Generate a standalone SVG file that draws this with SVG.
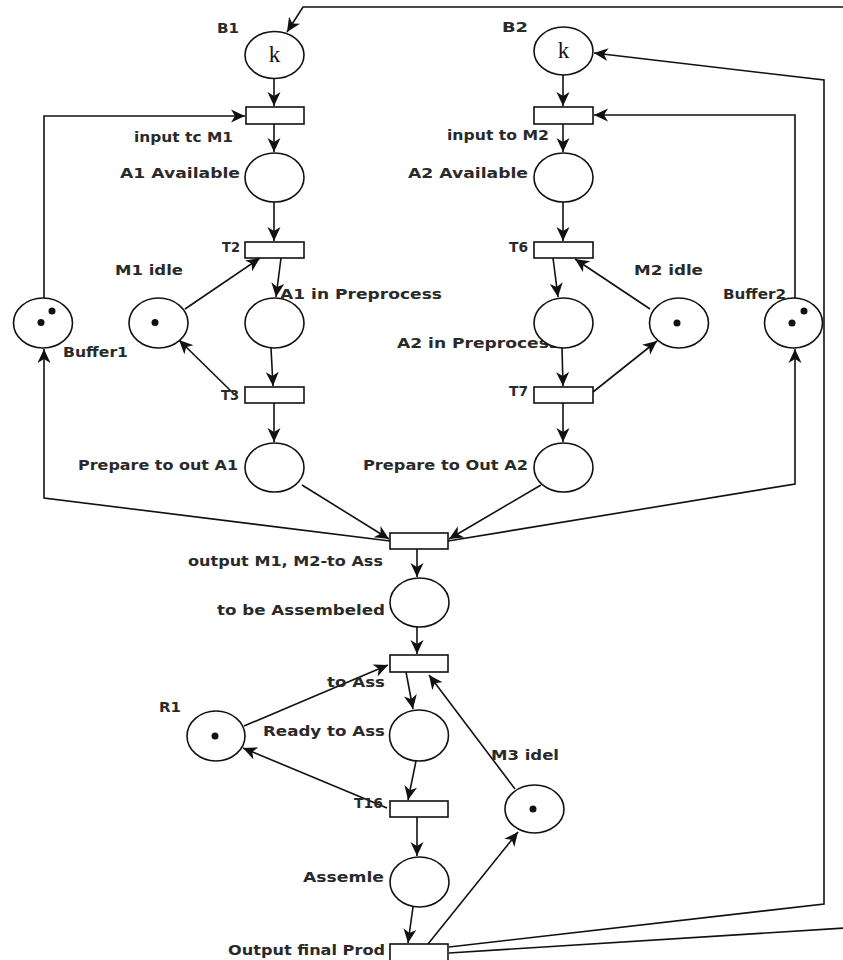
<svg xmlns="http://www.w3.org/2000/svg" width="843" height="960" viewBox="0 0 843 960">
  <style>
    .place { fill: #fff; stroke: #111; stroke-width: 1.6; }
    .trans { fill: #fff; stroke: #111; stroke-width: 1.6; }
    .tok { fill: #111; }
    .arc { fill: none; stroke: #111; stroke-width: 1.6; }
    .lbl { font-family: "DejaVu Sans", "Liberation Sans", sans-serif; font-weight: bold; font-size: 14.5px; fill: #2a2a2a; }
    .k { font-family: "Liberation Serif", serif; font-size: 23px; fill: #111; text-anchor: middle; }
  </style>
  <defs>
    <marker id="arr" markerUnits="userSpaceOnUse" markerWidth="16" markerHeight="14" refX="14" refY="7" orient="auto">
      <path d="M0,0.5 L14,7 L0,13.5 L4,7 z" fill="#111"/>
    </marker>
  </defs>
  <rect width="843" height="960" fill="#fff"/>

  <!-- arcs -->
  <g id="connectors">
    <path class="arc" d="M274,78 L274,106" marker-end="url(#arr)"/>
    <path class="arc" d="M274,124 L274,152" marker-end="url(#arr)"/>
    <path class="arc" d="M274,202 L274,241" marker-end="url(#arr)"/>
    <path class="arc" d="M281,258 L276,297" marker-end="url(#arr)"/>
    <path class="arc" d="M185,309 L260,258" marker-end="url(#arr)"/>
    <path class="arc" d="M271,348 L273,386" marker-end="url(#arr)"/>
    <path class="arc" d="M235,395 L179,340" marker-end="url(#arr)"/>
    <path class="arc" d="M274,403 L274,442" marker-end="url(#arr)"/>
    <path class="arc" d="M44,298 L44,116 L245,116" marker-end="url(#arr)"/>
    <path class="arc" d="M390,541 L44,498 L44,349" marker-end="url(#arr)"/>
    <path class="arc" d="M302,485 L389,539" marker-end="url(#arr)"/>
    <path class="arc" d="M541,485 L449,539" marker-end="url(#arr)"/>
    <path class="arc" d="M448,541 L795,484 L795,349" marker-end="url(#arr)"/>
    <path class="arc" d="M795,298 L795,115 L594,115" marker-end="url(#arr)"/>

    <path class="arc" d="M563,75 L563,106" marker-end="url(#arr)"/>
    <path class="arc" d="M563,124 L563,152" marker-end="url(#arr)"/>
    <path class="arc" d="M563,202 L563,241" marker-end="url(#arr)"/>
    <path class="arc" d="M553,258 L558,297" marker-end="url(#arr)"/>
    <path class="arc" d="M650,309 L575,259" marker-end="url(#arr)"/>
    <path class="arc" d="M562,348 L563,386" marker-end="url(#arr)"/>
    <path class="arc" d="M593,392 L657,341" marker-end="url(#arr)"/>
    <path class="arc" d="M563,403 L563,442" marker-end="url(#arr)"/>

    <path class="arc" d="M417,549 L417,577" marker-end="url(#arr)"/>
    <path class="arc" d="M417,627 L417,654" marker-end="url(#arr)"/>
    <path class="arc" d="M244,726 L388,665" marker-end="url(#arr)"/>
    <path class="arc" d="M406,672 L413,709" marker-end="url(#arr)"/>
    <path class="arc" d="M515,789 L429,675" marker-end="url(#arr)"/>
    <path class="arc" d="M416,761 L408,800" marker-end="url(#arr)"/>
    <path class="arc" d="M387,808 L243,748" marker-end="url(#arr)"/>
    <path class="arc" d="M417,817 L417,856" marker-end="url(#arr)"/>
    <path class="arc" d="M413,907 L408,943" marker-end="url(#arr)"/>
    <path class="arc" d="M428,944 L518,832" marker-end="url(#arr)"/>
    <path class="arc" d="M449,947 L824,904 L824,80 L594,53" marker-end="url(#arr)"/>
    <path class="arc" d="M449,953 L845,928"/>
    <path class="arc" d="M845,7 L303,7 L287,32" marker-end="url(#arr)"/>
  </g>

  <!-- machine 1 branch -->
  <g id="B1">
    <text class="lbl" x="217" y="33" textLength="22" lengthAdjust="spacingAndGlyphs">B1</text>
    <ellipse class="place" cx="274.5" cy="55" rx="29.5" ry="23.5"/>
    <text class="k" x="274.5" y="62">k</text>
  </g>
  <g id="input_M1">
    <rect class="trans" x="246" y="107" width="58" height="17"/>
    <text class="lbl" x="134" y="142" textLength="99" lengthAdjust="spacingAndGlyphs">input tc M1</text>
  </g>
  <g id="A1_Available">
    <ellipse class="place" cx="274.5" cy="177.5" rx="29.5" ry="24.5"/>
    <text class="lbl" x="120" y="178" textLength="120" lengthAdjust="spacingAndGlyphs">A1 Available</text>
  </g>
  <g id="T2">
    <rect class="trans" x="245" y="242" width="59" height="16"/>
    <text class="lbl" x="222" y="252" textLength="18" lengthAdjust="spacingAndGlyphs">T2</text>
  </g>
  <g id="M1_idle">
    <text class="lbl" x="115" y="275" textLength="68" lengthAdjust="spacingAndGlyphs">M1 idle</text>
    <ellipse class="place" cx="158.5" cy="323" rx="29.5" ry="25"/>
    <circle class="tok" cx="155" cy="322.5" r="3.5"/>
  </g>
  <g id="A1_in_Preprocess">
    <ellipse class="place" cx="274.5" cy="323" rx="29.5" ry="25"/>
    <text class="lbl" x="280" y="299" textLength="162" lengthAdjust="spacingAndGlyphs">A1 in Preprocess</text>
  </g>
  <g id="Buffer1">
    <ellipse class="place" cx="43" cy="323" rx="29.5" ry="25"/>
    <circle class="tok" cx="52" cy="311" r="3.5"/>
    <circle class="tok" cx="41" cy="322.5" r="3.5"/>
    <text class="lbl" x="63" y="357" textLength="65" lengthAdjust="spacingAndGlyphs">Buffer1</text>
  </g>
  <g id="T3">
    <rect class="trans" x="245" y="387" width="59" height="16"/>
    <text class="lbl" x="221" y="400" textLength="18" lengthAdjust="spacingAndGlyphs">T3</text>
  </g>
  <g id="Prepare_out_A1">
    <ellipse class="place" cx="274.5" cy="467.5" rx="29.5" ry="24.5"/>
    <text class="lbl" x="78" y="470" textLength="160" lengthAdjust="spacingAndGlyphs">Prepare to out A1</text>
  </g>

  <!-- machine 2 branch -->
  <g id="B2">
    <text class="lbl" x="502" y="32" textLength="26" lengthAdjust="spacingAndGlyphs">B2</text>
    <ellipse class="place" cx="563.5" cy="51" rx="29.5" ry="24"/>
    <text class="k" x="563.5" y="58">k</text>
  </g>
  <g id="input_M2">
    <rect class="trans" x="534" y="107" width="59" height="17"/>
    <text class="lbl" x="447" y="140" textLength="102" lengthAdjust="spacingAndGlyphs">input to M2</text>
  </g>
  <g id="A2_Available">
    <ellipse class="place" cx="563.5" cy="177.5" rx="29.5" ry="24.5"/>
    <text class="lbl" x="408" y="178" textLength="120" lengthAdjust="spacingAndGlyphs">A2 Available</text>
  </g>
  <g id="T6">
    <rect class="trans" x="534" y="242" width="59" height="16"/>
    <text class="lbl" x="509" y="252" textLength="19" lengthAdjust="spacingAndGlyphs">T6</text>
  </g>
  <g id="M2_idle">
    <text class="lbl" x="634" y="275" textLength="69" lengthAdjust="spacingAndGlyphs">M2 idle</text>
    <ellipse class="place" cx="679" cy="323" rx="29.5" ry="25"/>
    <circle class="tok" cx="677" cy="323" r="3.5"/>
  </g>
  <g id="A2_in_Preprocess">
    <text class="lbl" x="397" y="348" textLength="162" lengthAdjust="spacingAndGlyphs">A2 in Preprocess</text>
    <ellipse class="place" cx="563.5" cy="323" rx="29.5" ry="25"/>
  </g>
  <g id="Buffer2">
    <text class="lbl" x="723" y="299" textLength="63" lengthAdjust="spacingAndGlyphs">Buffer2</text>
    <ellipse class="place" cx="793.5" cy="323" rx="29" ry="25"/>
    <circle class="tok" cx="804" cy="311" r="3.5"/>
    <circle class="tok" cx="792" cy="323" r="3.5"/>
  </g>
  <g id="T7">
    <rect class="trans" x="534" y="387" width="59" height="16"/>
    <text class="lbl" x="509" y="396" textLength="19" lengthAdjust="spacingAndGlyphs">T7</text>
  </g>
  <g id="Prepare_out_A2">
    <ellipse class="place" cx="563.5" cy="467.5" rx="29.5" ry="24.5"/>
    <text class="lbl" x="363" y="470" textLength="165" lengthAdjust="spacingAndGlyphs">Prepare to Out A2</text>
  </g>

  <!-- assembly -->
  <g id="output_M1_M2">
    <rect class="trans" x="390" y="533" width="58" height="16"/>
    <text class="lbl" x="188" y="566" textLength="195" lengthAdjust="spacingAndGlyphs">output M1, M2-to Ass</text>
  </g>
  <g id="to_be_Assembeled">
    <ellipse class="place" cx="419.5" cy="602.5" rx="29.5" ry="24.5"/>
    <text class="lbl" x="217" y="615" textLength="168" lengthAdjust="spacingAndGlyphs">to be Assembeled</text>
  </g>
  <g id="to_Ass">
    <rect class="trans" x="390" y="655" width="58" height="17"/>
    <text class="lbl" x="327" y="687" textLength="58" lengthAdjust="spacingAndGlyphs">to Ass</text>
  </g>
  <g id="R1">
    <text class="lbl" x="159" y="712" textLength="22" lengthAdjust="spacingAndGlyphs">R1</text>
    <ellipse class="place" cx="216" cy="736" rx="29" ry="25"/>
    <circle class="tok" cx="215" cy="736" r="3.5"/>
  </g>
  <g id="Ready_to_Ass">
    <ellipse class="place" cx="419" cy="735.5" rx="29.5" ry="25.5"/>
    <text class="lbl" x="263" y="736" textLength="122" lengthAdjust="spacingAndGlyphs">Ready to Ass</text>
  </g>
  <g id="M3_idel">
    <text class="lbl" x="491" y="760" textLength="68" lengthAdjust="spacingAndGlyphs">M3 idel</text>
    <ellipse class="place" cx="534.5" cy="809" rx="29.5" ry="24"/>
    <circle class="tok" cx="533" cy="809" r="3.5"/>
  </g>
  <g id="T16">
    <rect class="trans" x="390" y="801" width="58" height="16"/>
    <text class="lbl" x="354" y="808" textLength="29" lengthAdjust="spacingAndGlyphs">T16</text>
  </g>
  <g id="Assemle">
    <ellipse class="place" cx="419.5" cy="882" rx="29.5" ry="25"/>
    <text class="lbl" x="303" y="882" textLength="81" lengthAdjust="spacingAndGlyphs">Assemle</text>
  </g>
  <g id="Output_final_Prod">
    <rect class="trans" x="390" y="944" width="58" height="17"/>
    <text class="lbl" x="228" y="955" textLength="157" lengthAdjust="spacingAndGlyphs">Output final Prod</text>
  </g>
</svg>
